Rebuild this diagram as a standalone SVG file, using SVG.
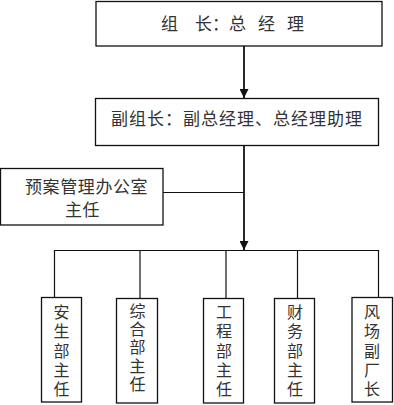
<svg xmlns="http://www.w3.org/2000/svg" width="394" height="405" viewBox="0 0 394 405">
<style>
.box{fill:#fff;stroke:#111;stroke-width:1.3}
.ln{fill:none;stroke:#111;stroke-width:1.2}
.main{fill:none;stroke:#111;stroke-width:1.8}
text{font-family:"Noto Sans CJK SC","Noto Sans CJK JP",sans-serif;fill:#333;font-size:17px}
.v{font-size:16px;writing-mode:vertical-rl;letter-spacing:3.3px}
</style>
<defs>
<marker id="arr" viewBox="0 0 10 10" refX="10" refY="5" markerWidth="5" markerHeight="5" markerUnits="strokeWidth" orient="auto">
<path d="M0,0 L10,5 L0,10 z" fill="#111"/>
</marker>
</defs>
<rect width="394" height="405" fill="#fff"/>
<g id="connectors">
<line class="main" x1="244" y1="46" x2="244" y2="98" marker-end="url(#arr)"/>
<line class="main" x1="244" y1="146" x2="244" y2="250" marker-end="url(#arr)"/>
<line class="ln" x1="163" y1="192.5" x2="244" y2="192.5"/>
<polyline class="ln" points="54.5,297.5 54.5,250.5 378.5,250.5 378.5,297.5"/>
<line class="ln" x1="140" y1="250.5" x2="140" y2="298.5"/>
<line class="ln" x1="226" y1="250.5" x2="226" y2="298.5"/>
<line class="ln" x1="297.5" y1="250.5" x2="297.5" y2="298.5"/>
</g>
<g id="n-leader">
<rect class="box" x="96" y="1.5" width="286" height="44.5"/>
<text x="161" y="30">组<tspan dx="17">长</tspan>：总<tspan dx="12">经</tspan><tspan dx="12">理</tspan></text>
</g>
<g id="n-deputy">
<rect class="box" x="95.5" y="98.5" width="283" height="47"/>
<text x="111" y="125" letter-spacing="1">副组长：副总经理、总经理助理</text>
</g>
<g id="n-office">
<rect class="box" x="0.5" y="168.5" width="162.5" height="56.5"/>
<text x="25" y="193" letter-spacing="0.6">预案管理办公室</text>
<text x="65" y="215.5" letter-spacing="0.6">主任</text>
</g>
<g id="n-safety">
<rect class="box" x="41.5" y="297.5" width="40" height="104.5"/>
<text class="v" x="61.5" y="304">安生部主任</text>
</g>
<g id="n-general">
<rect class="box" x="116.5" y="298.5" width="41" height="104.5"/>
<text class="v" x="137.5" y="303" style="letter-spacing:2.2px">综合部主任</text>
</g>
<g id="n-engineering">
<rect class="box" x="203.5" y="298.5" width="40" height="104.5"/>
<text class="v" x="224" y="304">工程部主任</text>
</g>
<g id="n-finance">
<rect class="box" x="274.5" y="298.5" width="40" height="104.5"/>
<text class="v" x="295" y="304">财务部主任</text>
</g>
<g id="n-windfarm">
<rect class="box" x="352" y="297.5" width="40.5" height="104.5"/>
<text class="v" x="372" y="304">风场副厂长</text>
</g>
</svg>
